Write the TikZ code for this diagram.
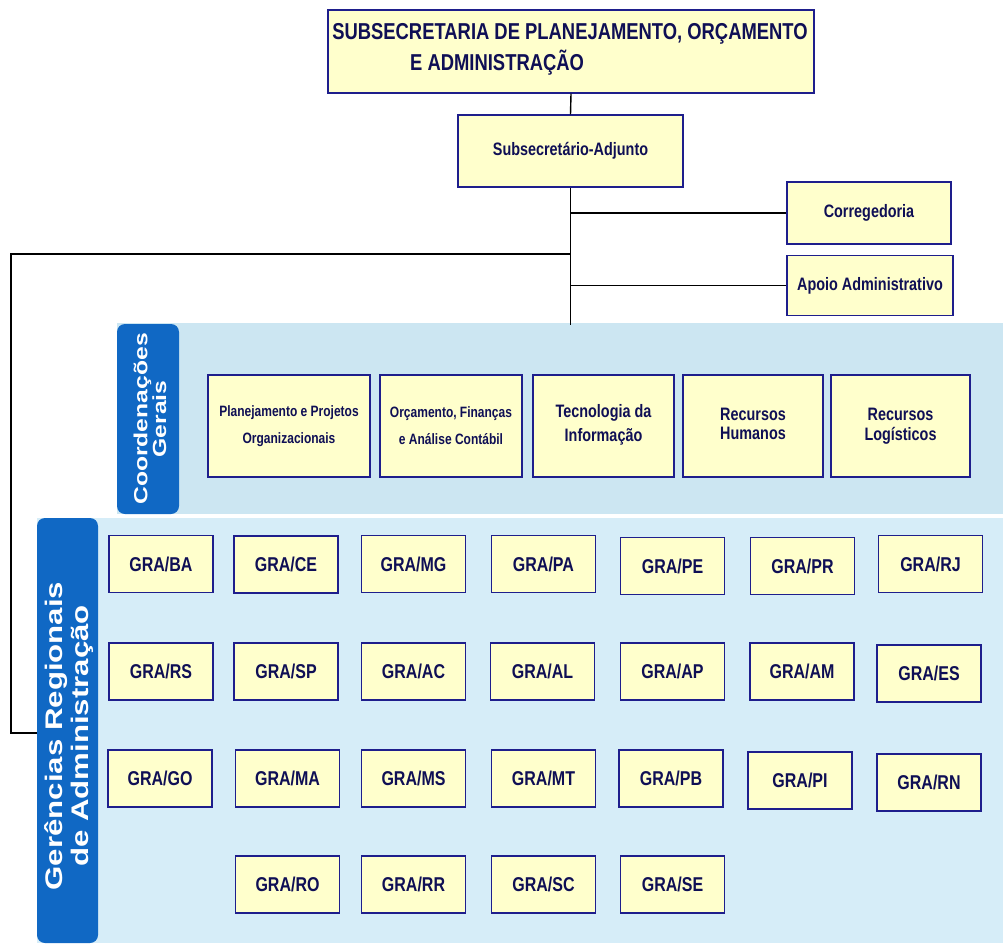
\documentclass[tikz,border=0pt]{standalone}
\usepackage{fontspec}
\setmainfont{Liberation Sans}[FakeStretch=0.8]
\newfontfamily\tabfont{Liberation Sans}[FakeStretch=1.3]
\definecolor{boxfill}{RGB}{255,255,204}
\definecolor{boxline}{RGB}{30,30,140}
\definecolor{txt}{RGB}{15,15,85}
\definecolor{paneltop}{RGB}{204,230,242}
\definecolor{panelbot}{RGB}{214,237,248}
\definecolor{tabblue}{RGB}{16,104,196}
\begin{document}
\begin{tikzpicture}[x=1pt,y=-1pt,
  box/.style={draw=boxline, fill=boxfill, line width=1.4pt, text=txt, inner sep=0pt, align=center},
  gra/.style={box, minimum width=104pt, minimum height=57pt, font=\bfseries\fontsize{20}{22}\selectfont},
  coord/.style={box, minimum height=102pt},
  conn/.style={draw=black, line width=1.4pt},
  tabtxt/.style={text=white, rotate=90, align=center, inner sep=0pt}]
\useasboundingbox (0,0) rectangle (1003,943);

% panels
\fill[paneltop] (117,323) rectangle (1003,514);
\fill[panelbot] (37,518) rectangle (1003,943);
\fill[tabblue, rounded corners=8pt] (179,324) -- (117,324) -- (117,514) -- (179,514) -- cycle;
\fill[tabblue, rounded corners=8pt] (98,943) -- (37,943) -- (37,518) -- (98,518) -- cycle;
\node[tabtxt, font=\tabfont\bfseries\fontsize{19}{17}\selectfont] (tabcoord) at (150,419) {Coordenações\\Gerais};
\node[tabtxt, font=\tabfont\bfseries\fontsize{24}{26}\selectfont] (tabger) at (69,736) {Gerências Regionais\\de Administração};

% top boxes
\node[box, minimum width=486pt, minimum height=83pt] (top) at (571,51.5) {};
\node[text=txt, font=\bfseries\fontsize{23}{25}\selectfont, inner sep=0pt] (toptxta) at (570,34) {SUBSECRETARIA DE PLANEJAMENTO, ORÇAMENTO};
\node[text=txt, font=\bfseries\fontsize{23}{25}\selectfont, inner sep=0pt, anchor=west] (toptxtb) at (410,62.5) {E ADMINISTRAÇÃO};
\node[box, minimum width=225pt, minimum height=72pt, font=\bfseries\fontsize{18}{20}\selectfont] (adj) at (570.5,151) {Subsecretário-Adjunto};
\node[box, minimum width=164pt, minimum height=62pt, font=\bfseries\fontsize{18}{20}\selectfont] (corr) at (869,213) {Corregedoria};
\node[box, minimum width=166pt, minimum height=60pt, font=\bfseries\fontsize{18}{20}\selectfont] (apoio) at (870,285.5) {Apoio Administrativo};

% connectors
\coordinate (trunkend) at (570.5,325);
\coordinate (lefttop) at (11,254);
\coordinate (leftbot) at (11,733);
\coordinate (gerin) at (37,733);
\draw[conn] (top.south) -- (adj.north);
\draw[conn] (adj.south) -- (trunkend);
\draw[conn] (adj.south |- corr.west) -- (corr.west);
\draw[conn] (adj.south |- apoio.west) -- (apoio.west);
\draw[conn] (adj.south |- lefttop) -- (lefttop) -- (leftbot) -- (gerin);

% coordenacoes
\node[coord, minimum width=162pt, font=\bfseries\fontsize{15}{27}\selectfont] (c1) at (289,426) {Planejamento e Projetos\\Organizacionais};
\node[coord, minimum width=142pt, font=\bfseries\fontsize{15}{27}\selectfont] (c2) at (451,426) {Orçamento, Finanças\\e Análise Contábil};
\node[coord, minimum width=141pt, font=\bfseries\fontsize{18}{26}\selectfont] (c3) at (603.5,426) {\raisebox{6pt}{\shortstack{Tecnologia da\\[4pt]Informação}}};
\node[coord, minimum width=140pt, font=\bfseries\fontsize{18}{26}\selectfont] (c4) at (753,426) {\raisebox{4pt}{\shortstack{Recursos\\[4pt]Humanos}}};
\node[coord, minimum width=139pt, font=\bfseries\fontsize{18}{26}\selectfont] (c5) at (900.5,426) {\raisebox{4pt}{\shortstack{Recursos\\[4pt]Logísticos}}};

% GRA
\node[gra] (ba) at (161,564) {GRA/BA};
\node[gra] (ce) at (286,564.5) {GRA/CE};
\node[gra] (mg) at (413.5,564) {GRA/MG};
\node[gra] (pa) at (543.5,564) {GRA/PA};
\node[gra] (pe) at (672.5,566) {GRA/PE};
\node[gra] (pr) at (802.5,566) {GRA/PR};
\node[gra] (rj) at (930.5,564) {GRA/RJ};

\node[gra] (rs) at (161,671.5) {GRA/RS};
\node[gra] (sp) at (286,671.5) {GRA/SP};
\node[gra] (ac) at (413.5,671.5) {GRA/AC};
\node[gra] (al) at (542.5,671.5) {GRA/AL};
\node[gra] (ap) at (672.5,671.5) {GRA/AP};
\node[gra] (am) at (802,671.5) {GRA/AM};
\node[gra] (es) at (929,673.5) {GRA/ES};

\node[gra] (go) at (160,778.5) {GRA/GO};
\node[gra] (ma) at (287.5,778.5) {GRA/MA};
\node[gra] (ms) at (413.5,778.5) {GRA/MS};
\node[gra] (mt) at (543.5,778.5) {GRA/MT};
\node[gra] (pb) at (671,778.5) {GRA/PB};
\node[gra] (pi) at (800,780.5) {GRA/PI};
\node[gra] (rn) at (929,782.5) {GRA/RN};

\node[gra] (ro) at (287.5,884.5) {GRA/RO};
\node[gra] (rr) at (413.5,884.5) {GRA/RR};
\node[gra] (sc) at (543.5,884.5) {GRA/SC};
\node[gra] (se) at (672.5,884.5) {GRA/SE};
\end{tikzpicture}
\end{document}
